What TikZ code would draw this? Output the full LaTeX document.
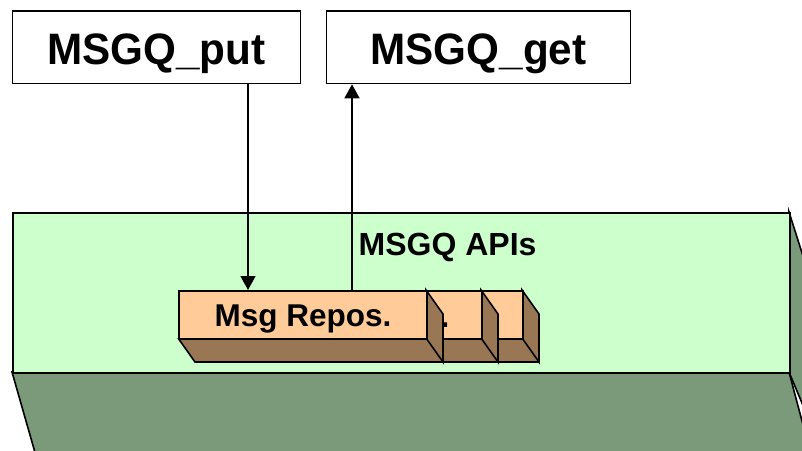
\documentclass[tikz,border=0pt]{standalone}
\usepackage{fontspec}
\setmainfont{Liberation Sans}
\usetikzlibrary{arrows.meta}
\definecolor{slabfront}{HTML}{CCFFCC}
\definecolor{slabdark}{HTML}{7A9A7A}
\definecolor{repofront}{HTML}{FFCC99}
\definecolor{repodark}{HTML}{997755}
\tikzset{
  edge/.style={draw=black, line width=1.6pt, line join=miter},
  topbox/.style={draw=black, line width=1.6pt, fill=white, inner sep=0pt,
    minimum width=288pt, minimum height=72.5pt, text height=40pt, text depth=6.5pt,
    font=\fontsize{44}{50}\selectfont\bfseries},
  repofont/.style={inner sep=0pt, font=\fontsize{31.5}{36}\selectfont\bfseries},
  conn/.style={line width=1.5pt, -{Triangle[length=14pt,width=15pt]}}
}
\newcommand{\repobox}[3]{% x1, x2, name
  \fill[repodark] (#1,338) -- (#2,338) -- (#2+17,362) -- (#1+17,362) -- cycle;
  \draw[edge] (#1,338) -- (#1+17,362) -- (#2+17,362);
  \filldraw[edge, fill=repodark] (#2,290) -- (#2+17,314) -- (#2+17,362) -- (#2,338) -- cycle;
  \node[edge, fill=repofront, anchor=north west, inner sep=0pt,
        minimum width={#2-#1}, minimum height=48pt] (#3) at (#1,290) {};
}
\begin{document}
\begin{tikzpicture}[x=1pt,y=-1pt]
\useasboundingbox (0,0) rectangle (802,450);
\clip (0,0) rectangle (802,450);
\fill[white] (0,0) rectangle (802,450);
% slab
\filldraw[edge, fill=slabdark] (789,212) -- (830,341) -- (830,470) -- (789,372) -- cycle;
\filldraw[edge, fill=slabdark] (12,372) -- (789,372) -- (815,470) -- (40,470) -- cycle;
\node[edge, fill=slabfront, anchor=north west, inner sep=0pt,
      minimum width=777pt, minimum height=160pt] (slab) at (12,212) {};
\node[anchor=base west, inner sep=0pt, font=\fontsize{32}{36}\selectfont\bfseries]
  (apis) at (358.5,255.7) {MSGQ APIs};
% repository boxes, back to front
\repobox{274}{522}{repoC}
\repobox{233}{481}{repoB}
\node[repofont, anchor=base west] (repoBdot) at (440.5,327) {.};
\repobox{178}{426}{repoA}
\node[repofont, anchor=base] (repoAlbl) at (303,326) {Msg Repos.};
% top boxes
\node[topbox] (put) at (156.5,47.25) {\scalebox{0.96}[1]{MSGQ\_put}};
\node[topbox, minimum width=304pt] (get) at (478.5,47.25) {\scalebox{0.96}[1]{MSGQ\_get}};
% connectors
\coordinate (dn) at (248,0);
\coordinate (up) at (352,0);
\draw[conn] (put.south -| dn) -- (repoA.north -| dn);
\draw[conn] (repoA.north -| up) -- (get.south -| up);
\end{tikzpicture}
\end{document}
